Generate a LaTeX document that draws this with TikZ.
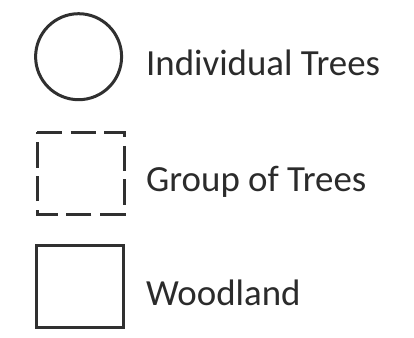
\documentclass[tikz,border=0pt]{standalone}
\usepackage{fontspec}
\setmainfont{Carlito}
\definecolor{ink}{HTML}{2B2B2B}
\definecolor{linec}{HTML}{303030}
\begin{document}
\begin{tikzpicture}[x=1bp,y=-1bp,
  symb/.style={draw=linec,line width=3bp},
  lbl/.style={anchor=base west,inner sep=0pt,text=ink,font=\fontsize{37}{44}\selectfont}]
\useasboundingbox[fill=white] (0,0) rectangle (414,338);
% individual trees
\node[symb,circle,minimum size=86bp,inner sep=0pt] (circ) at (78.6,56.7) {};
\node[lbl] (t1) at (146,75) {Individual Trees};
% group of trees
\coordinate (gtl) at (37,132);
\coordinate (gtr) at (124,132);
\coordinate (gbr) at (124,214);
\coordinate (gbl) at (37,214);
\draw[symb,dash pattern=on 25.2bp off 8.4bp] (gtl) -- (gtr) -- (gbr) -- (gbl) -- cycle;
\node[lbl] (t2) at (146,191) {Group of Trees};
% woodland
\node[symb,rectangle,minimum width=87bp,minimum height=82bp,inner sep=0pt] (wood) at (80,286.6) {};
\node[lbl] (t3) at (146,305) {Woodland};
\end{tikzpicture}
\end{document}
